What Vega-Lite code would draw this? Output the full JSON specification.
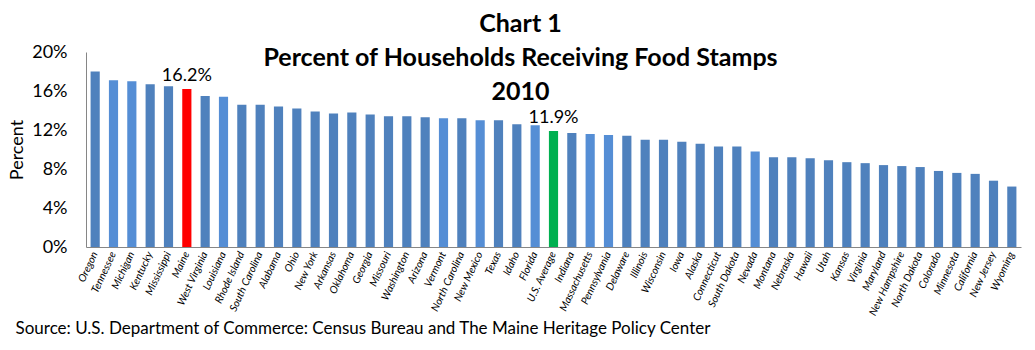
{
  "$schema": "https://vega.github.io/schema/vega-lite/v6.json",
  "autosize": {"type": "none"},
  "width": 935,
  "height": 195,
  "padding": {"left": 86, "top": 52, "right": 14, "bottom": 103},
  "background": "white",
  "config": {"view": {"stroke": null}, "font": "Lato"},
  "title": {
    "text": ["Chart 1", "Percent of Households Receiving Food Stamps", "2010"],
    "anchor": "middle",
    "frame": "group",
    "orient": "top",
    "offset": -62,
    "dx": -33,
    "font": "Lato",
    "fontSize": 25,
    "fontWeight": "bold",
    "lineHeight": 34,
    "color": "black"
  },
  "data": {
    "values": [
      {"state": "Oregon", "pct": 0.180, "group": "Other"},
      {"state": "Tennessee", "pct": 0.171, "group": "Other (alt)"},
      {"state": "Michigan", "pct": 0.170, "group": "Other (alt)"},
      {"state": "Kentucky", "pct": 0.167, "group": "Other"},
      {"state": "Mississippi", "pct": 0.165, "group": "Other"},
      {"state": "Maine", "pct": 0.162, "group": "Maine", "label": "16.2%"},
      {"state": "West Virginia", "pct": 0.155, "group": "Other"},
      {"state": "Louisiana", "pct": 0.154, "group": "Other (alt)"},
      {"state": "Rhode Island", "pct": 0.146, "group": "Other"},
      {"state": "South Carolina", "pct": 0.146, "group": "Other"},
      {"state": "Alabama", "pct": 0.144, "group": "Other"},
      {"state": "Ohio", "pct": 0.142, "group": "Other"},
      {"state": "New York", "pct": 0.139, "group": "Other"},
      {"state": "Arkansas", "pct": 0.137, "group": "Other"},
      {"state": "Oklahoma", "pct": 0.138, "group": "Other"},
      {"state": "Georgia", "pct": 0.136, "group": "Other"},
      {"state": "Missouri", "pct": 0.134, "group": "Other"},
      {"state": "Washington", "pct": 0.134, "group": "Other"},
      {"state": "Arizona", "pct": 0.133, "group": "Other"},
      {"state": "Vermont", "pct": 0.132, "group": "Other (alt)"},
      {"state": "North Carolina", "pct": 0.132, "group": "Other"},
      {"state": "New Mexico", "pct": 0.130, "group": "Other (alt)"},
      {"state": "Texas", "pct": 0.130, "group": "Other"},
      {"state": "Idaho", "pct": 0.126, "group": "Other"},
      {"state": "Florida", "pct": 0.125, "group": "Other (alt)"},
      {"state": "U.S. Average", "pct": 0.119, "group": "U.S. Average", "label": "11.9%"},
      {"state": "Indiana", "pct": 0.117, "group": "Other"},
      {"state": "Massachusetts", "pct": 0.116, "group": "Other (alt)"},
      {"state": "Pennsylvania", "pct": 0.115, "group": "Other (alt)"},
      {"state": "Delaware", "pct": 0.114, "group": "Other"},
      {"state": "Illinois", "pct": 0.110, "group": "Other"},
      {"state": "Wisconsin", "pct": 0.110, "group": "Other"},
      {"state": "Iowa", "pct": 0.108, "group": "Other"},
      {"state": "Alaska", "pct": 0.106, "group": "Other"},
      {"state": "Connecticut", "pct": 0.103, "group": "Other"},
      {"state": "South Dakota", "pct": 0.103, "group": "Other"},
      {"state": "Nevada", "pct": 0.098, "group": "Other (alt)"},
      {"state": "Montana", "pct": 0.092, "group": "Other"},
      {"state": "Nebraska", "pct": 0.092, "group": "Other"},
      {"state": "Hawaii", "pct": 0.091, "group": "Other"},
      {"state": "Utah", "pct": 0.089, "group": "Other"},
      {"state": "Kansas", "pct": 0.087, "group": "Other"},
      {"state": "Virginia", "pct": 0.086, "group": "Other"},
      {"state": "Maryland", "pct": 0.084, "group": "Other"},
      {"state": "New Hampshire", "pct": 0.083, "group": "Other"},
      {"state": "North Dakota", "pct": 0.082, "group": "Other"},
      {"state": "Colorado", "pct": 0.078, "group": "Other"},
      {"state": "Minnesota", "pct": 0.076, "group": "Other"},
      {"state": "California", "pct": 0.075, "group": "Other"},
      {"state": "New Jersey", "pct": 0.068, "group": "Other"},
      {"state": "Wyoming", "pct": 0.062, "group": "Other"}
    ]
  },
  "encoding": {
    "x": {
      "field": "state",
      "type": "nominal",
      "sort": null,
      "scale": {"paddingInner": 0.5, "paddingOuter": 0.25},
      "axis": {
        "title": "Source: U.S. Department of Commerce: Census Bureau and The Maine Heritage Policy Center",
        "titleFont": "Lato",
        "titleFontSize": 17,
        "titleFontWeight": "normal",
        "titleColor": "black",
        "titleAnchor": "start",
        "titleAlign": "left",
        "titleBaseline": "alphabetic",
        "titleX": -71,
        "titleY": 86,
        "labelAngle": -65,
        "labelFont": "Lato",
        "labelFontSize": 10.5,
        "labelFontStyle": "italic",
        "labelColor": "black",
        "labelPadding": 5,
        "labelOverlap": false,
        "ticks": false,
        "domainColor": "#868686",
        "grid": false
      }
    },
    "y": {
      "field": "pct",
      "type": "quantitative",
      "scale": {"domain": [0, 0.2], "nice": false},
      "axis": {
        "title": "Percent",
        "titleFont": "Lato",
        "titleFontSize": 18,
        "titleFontWeight": "normal",
        "titleColor": "black",
        "titlePadding": 5,
        "format": ".0%",
        "values": [0, 0.04, 0.08, 0.12, 0.16, 0.2],
        "labelFont": "Lato",
        "labelFontSize": 18,
        "labelColor": "black",
        "labelPadding": 19,
        "ticks": false,
        "grid": false,
        "domainColor": "#868686"
      }
    }
  },
  "layer": [
    {
      "mark": {"type": "bar"},
      "encoding": {
        "color": {
          "field": "group",
          "type": "nominal",
          "scale": {
            "domain": ["Other", "Other (alt)", "Maine", "U.S. Average"],
            "range": ["#4F81BD", "#558ED5", "#FF0000", "#00B050"]
          },
          "legend": null
        }
      }
    },
    {
      "transform": [{"filter": "datum.label != null"}],
      "mark": {"type": "text", "baseline": "alphabetic", "dy": -8, "font": "Lato", "fontSize": 18, "color": "black"},
      "encoding": {"text": {"field": "label"}}
    }
  ]
}
